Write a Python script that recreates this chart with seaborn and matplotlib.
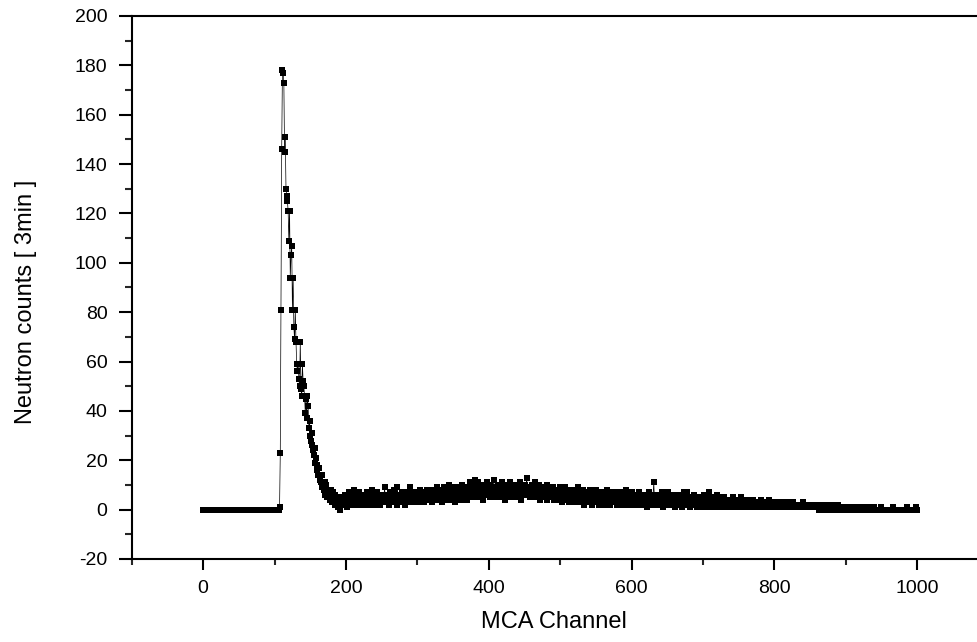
import pandas as pd
import matplotlib
matplotlib.use("Agg")
import matplotlib.pyplot as plt
from matplotlib.ticker import MultipleLocator
import seaborn as sns

# counts per MCA channel (3 min run)
# channels 0-105: nothing above threshold
zero_run = [0] * 106

# channels 106-195: thermal peak and its tail
peak = [0, 1, 23, 81, 146, 178, 177, 173, 145, 151,
        130, 127, 125, 121, 109, 121, 94, 103, 107, 81,
        94, 74, 69, 81, 68, 59, 56, 59, 53, 50,
        68, 49, 46, 59, 52, 50, 46, 39, 45, 37,
        46, 42, 33, 36, 30, 28, 31, 26, 24, 22,
        25, 19, 21, 18, 16, 14, 17, 12, 13, 11,
        14, 9, 10, 8, 11, 6, 10, 7, 5, 8,
        7, 4, 6, 8, 3, 5, 7, 4, 2, 6,
        4, 3, 5, 1, 4, 0, 3, 5, 2, 4]

# channels 196-335
plateau_low = [3, 5, 2, 6, 4, 1, 5, 3, 7, 4, 2, 5, 6, 3, 4, 8, 2, 5, 4, 6,
               3, 5, 7, 2, 4, 6, 3, 5, 4, 2, 6, 5, 3, 7, 4, 5, 2, 6, 4, 3,
               5, 8, 4, 3, 6, 2, 5, 4, 7, 3, 5, 6, 2, 4, 5, 3, 6, 4, 9, 5,
               3, 6, 4, 5, 2, 7, 4, 6, 3, 5, 4, 8, 3, 6, 5, 2, 9, 4, 6, 3,
               5, 4, 7, 3, 6, 5, 2, 6, 4, 7, 5, 3, 6, 9, 4, 5, 3, 7, 4, 6,
               5, 3, 6, 4, 7, 5, 6, 3, 8, 5, 4, 6, 7, 3, 5, 6, 4, 8, 5, 6,
               4, 7, 5, 6, 3, 8, 6, 5, 7, 4, 6, 9, 5, 7, 4, 6, 8, 5, 3, 7]

# channels 336-515
plateau_hump = [6, 9, 5, 7, 4, 8, 6, 5, 10, 7, 6, 4, 8, 7, 5, 9, 6, 3, 7, 8,
                6, 5, 9, 7, 8, 4, 6, 10, 7, 5, 8, 6, 9, 7, 4, 8, 6, 11, 7, 5,
                8, 7, 10, 6, 9, 12, 7, 5, 8, 11, 6, 9, 7, 8, 10, 6, 4, 9, 7, 8,
                6, 9, 11, 7, 8, 5, 10, 7, 9, 6, 8, 12, 7, 5, 9, 8, 6, 10, 7, 9,
                5, 8, 7, 11, 6, 9, 8, 4, 10, 7, 8, 6, 9, 11, 7, 5, 8, 10, 6, 9,
                7, 8, 5, 10, 7, 9, 6, 11, 8, 4, 7, 9, 8, 6, 10, 7, 9, 13, 8, 6,
                9, 7, 5, 8, 10, 6, 8, 7, 11, 5, 9, 7, 6, 8, 10, 7, 4, 9, 6, 8,
                7, 5, 9, 6, 8, 10, 4, 7, 6, 9, 5, 8, 7, 6, 9, 4, 7, 8, 5, 6,
                8, 5, 7, 4, 9, 6, 7, 3, 8, 5, 6, 9, 4, 7, 5, 6, 3, 8, 6, 5]

# channels 516-795
plateau_fall = [7, 4, 6, 8, 3, 5, 7, 6, 4, 9, 5, 3, 6, 7, 4, 5, 8, 2, 6, 5,
                4, 7, 5, 3, 6, 8, 4, 5, 2, 7, 6, 4, 5, 3, 8, 5, 6, 4, 2, 7,
                5, 3, 6, 4, 7, 5, 2, 6, 4, 3, 8, 5, 4, 6, 2, 5, 7, 3, 4, 6,
                3, 5, 7, 4, 2, 6, 4, 5, 3, 7, 4, 2, 6, 5, 3, 4, 8, 5, 2, 4,
                6, 3, 5, 4, 2, 7, 4, 3, 5, 6, 2, 4, 5, 3, 7, 4, 2, 5, 6, 3,
                4, 2, 5, 3, 6, 4, 1, 5, 3, 7, 4, 2, 5, 3, 6, 11, 4, 3, 5, 2,
                4, 6, 3, 2, 5, 4, 7, 3, 1, 5, 4, 2, 6, 3, 4, 7, 2, 5, 3, 4,
                2, 5, 3, 6, 4, 1, 3, 5, 2, 4, 6, 3, 2, 5, 4, 1, 3, 7, 4, 2,
                5, 3, 7, 2, 4, 3, 1, 5, 3, 2, 4, 6, 2, 3, 5, 1, 4, 3, 2, 5,
                3, 1, 4, 2, 5, 3, 6, 2, 4, 1, 3, 5, 2, 7, 4, 3, 2, 5, 1, 3,
                4, 2, 3, 6, 1, 3, 2, 4, 5, 2, 1, 3, 4, 2, 5, 1, 3, 2, 4, 3,
                1, 3, 2, 4, 1, 2, 5, 3, 1, 2, 3, 1, 4, 2, 3, 1, 2, 5, 3, 1,
                2, 4, 1, 3, 2, 1, 3, 2, 4, 1, 2, 3, 1, 2, 4, 1, 3, 2, 1, 3,
                2, 1, 3, 2, 1, 4, 2, 1, 3, 1, 2, 1, 3, 2, 1, 2, 4, 1, 2, 1]

# channels 796-1000
plateau_tail = [3, 1, 2, 1, 2, 3, 1, 2, 1, 3, 1, 2, 1, 1, 2, 3, 1, 2, 1, 2,
                1, 2, 1, 3, 1, 1, 2, 1, 2, 1, 3, 1, 2, 1, 1, 2, 1, 1, 2, 1,
                1, 2, 1, 1, 3, 1, 1, 2, 1, 1, 2, 1, 1, 1, 2, 1, 1, 2, 1, 1,
                1, 1, 2, 1, 1, 1, 2, 0, 1, 1, 1, 2, 1, 0, 1, 1, 2, 1, 0, 1,
                1, 0, 1, 1, 2, 0, 1, 1, 0, 1, 1, 0, 1, 2, 0, 1, 0, 1, 1, 0,
                1, 0, 1, 0, 1, 1, 0, 1, 0, 0, 1, 0, 1, 0, 0, 1, 0, 0, 1, 0,
                0, 0, 1, 0, 0, 0, 1, 0, 0, 0, 0, 1, 0, 0, 0, 0, 0, 1, 0, 0,
                0, 0, 0, 0, 1, 0, 0, 0, 0, 0, 0, 0, 0, 1, 0, 0, 0, 0, 0, 0,
                0, 0, 0, 0, 0, 0, 0, 0, 0, 0, 1, 0, 0, 0, 0, 0, 0, 0, 0, 0,
                0, 0, 0, 0, 0, 0, 0, 0, 0, 1, 1, 0, 0, 0, 0, 0, 0, 0, 0, 0,
                0, 0, 1, 0, 0]

counts = zero_run + peak + plateau_low + plateau_hump + plateau_fall + plateau_tail
df = pd.DataFrame({"channel": range(len(counts)), "counts": counts})

x_ticks = [0, 200, 400, 600, 800, 1000]
y_ticks = [-20, 0, 20, 40, 60, 80, 100, 120, 140, 160, 180, 200]

sns.set_style("ticks")
plt.rcParams["font.family"] = ["Liberation Sans", "DejaVu Sans"]
plt.rcParams["axes.unicode_minus"] = False
plt.rcParams["text.color"] = "black"
plt.rcParams["axes.labelcolor"] = "black"

fig = plt.figure(figsize=(9.78, 6.42), dpi=100)
ax = fig.add_axes([0.1347, 0.1293, 0.8653, 0.8458])

sns.lineplot(data=df, x="channel", y="counts", ax=ax, color="black",
             linewidth=0.5, marker="s", markersize=3.8, markeredgewidth=0,
             markerfacecolor="black")

ax.set_xlim(-100, 1085)
ax.set_ylim(-20, 200)
ax.set_xticks(x_ticks)
ax.set_yticks(y_ticks)
ax.xaxis.set_minor_locator(MultipleLocator(100))
ax.yaxis.set_minor_locator(MultipleLocator(10))

ax.tick_params(axis="both", which="major", direction="out", width=1.5,
               labelsize=14, color="black", labelcolor="black")
ax.tick_params(axis="x", which="major", length=8, pad=7)
ax.tick_params(axis="y", which="major", length=9.5, pad=8)
ax.tick_params(axis="x", which="minor", length=4.5, width=1.5)
ax.tick_params(axis="y", which="minor", length=4.8, width=1.5)
ax.tick_params(top=False, right=False, which="both")

for side in ["left", "bottom", "top"]:
    ax.spines[side].set_linewidth(1.5)
    ax.spines[side].set_color("black")
ax.spines["right"].set_visible(False)

ax.set_xlabel("MCA Channel", fontsize=17, va="center", color="black")
ax.set_ylabel("Neutron counts [ 3min ]", fontsize=17, va="center", color="black")
ax.xaxis.set_label_coords(0.499, -0.116)
ax.yaxis.set_label_coords(-0.125, 0.473)
ax.grid(False)

fig.savefig("out.png", dpi=100)
